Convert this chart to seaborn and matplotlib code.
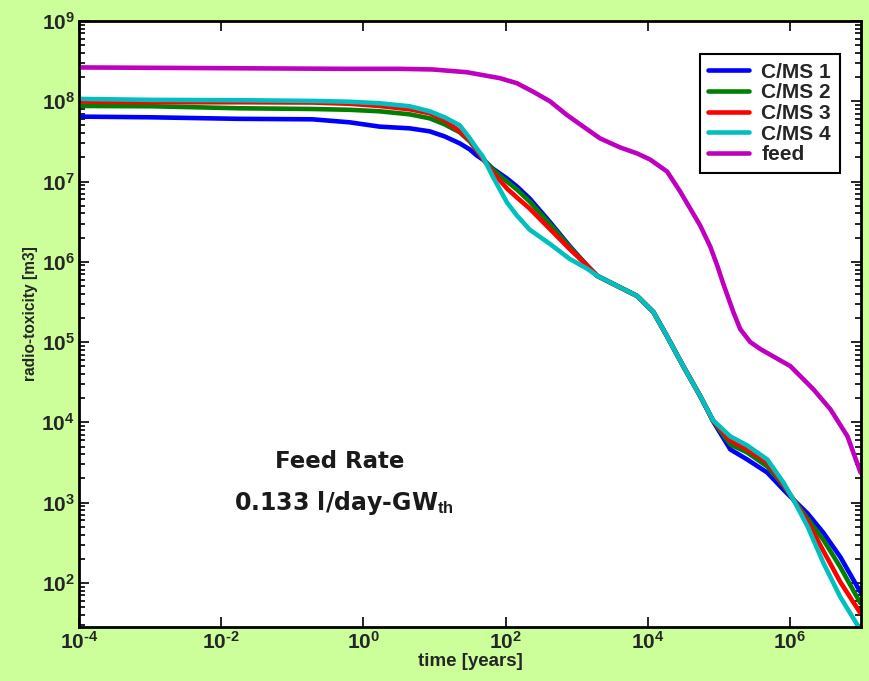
import numpy as np
import pandas as pd
import matplotlib
matplotlib.use("Agg")
import matplotlib.pyplot as plt
from matplotlib.ticker import FixedLocator, FuncFormatter, NullFormatter, NullLocator
import seaborn as sns

# ---------------- data ----------------
time_cms = [1e-4, 1.07e-3, 0.018, 0.192, 0.638, 1.69, 4.48, 8.57, 13.9, 22.7, 31.4,
            39.4, 47.9, 66.1, 105, 145, 219, 417, 794, 1413, 1950, 3715, 7080,
            1.2e4, 1.86e4, 3.16e4, 5.5e4, 8.3e4, 1.45e5, 2.5e5, 4.8e5, 8.1e5,
            1.12e6, 1.78e6, 2.95e6, 5.1e6, 9.8e6]
cms1 = [6.44e7, 6.31e7, 6.04e7, 5.96e7, 5.47e7, 4.83e7, 4.60e7, 4.22e7, 3.65e7, 2.99e7, 2.51e7,
        2.11e7, 1.88e7, 1.45e7, 1.09e7, 8.66e6, 6.13e6, 3.16e6, 1.58e6, 8.91e5, 6.68e5,
        5.01e5, 3.76e5, 2.37e5, 1.19e5, 5.01e4, 2.11e4, 1.03e4, 4.60e3, 3.45e3, 2.37e3,
        1.45e3, 1.09e3, 729, 422, 211, 77]
cms2 = [8.74e7, 8.66e7, 8.18e7, 8.01e7, 7.83e7, 7.50e7, 6.88e7, 6.13e7, 5.16e7, 4.10e7, 3.16e7,
        2.44e7, 1.94e7, 1.41e7, 1.0e7, 7.94e6, 5.62e6, 2.99e6, 1.54e6, 8.91e5, 6.68e5,
        5.01e5, 3.76e5, 2.37e5, 1.19e5, 5.01e4, 2.11e4, 1.05e4, 5.31e3, 4.22e3, 2.82e3,
        1.63e3, 1.09e3, 631, 345, 158, 56]
cms3 = [9.91e7, 9.72e7, 9.72e7, 9.64e7, 9.31e7, 8.74e7, 7.94e7, 7.08e7, 5.79e7, 4.22e7, 3.25e7,
        2.44e7, 1.94e7, 1.30e7, 8.17e6, 6.31e6, 4.60e6, 2.58e6, 1.45e6, 8.91e5, 6.68e5,
        5.01e5, 3.76e5, 2.37e5, 1.19e5, 5.01e4, 2.11e4, 1.05e4, 5.96e3, 4.60e3, 3.16e3,
        1.68e3, 1.09e3, 579, 251, 103, 42]
cms4 = [1.07e8, 1.04e8, 1.03e8, 1.01e8, 9.86e7, 9.44e7, 8.66e7, 7.50e7, 6.31e7, 5.01e7, 3.45e7,
        2.58e7, 2.05e7, 1.155e7, 5.46e6, 3.76e6, 2.51e6, 1.68e6, 1.09e6, 8.18e5, 6.68e5,
        5.01e5, 3.76e5, 2.37e5, 1.19e5, 5.01e4, 2.11e4, 1.06e4, 6.68e3, 5.16e3, 3.45e3,
        1.78e3, 1.09e3, 501, 178, 67, 26]

time_feed = [1e-4, 0.579, 3.24, 9.44, 28.5, 83.2, 144, 243, 421, 731, 1227, 2133, 4083,
             7079, 1.08e4, 1.875e4, 2.86e4, 3.96e4, 5.48e4, 7.59e4, 9.53e4, 1.156e5,
             1.60e5, 2.00e5, 2.77e5, 3.84e5, 1.016e6, 2.14e6, 3.72e6, 6.46e6, 9.86e6]
feed = [2.64e8, 2.535e8, 2.535e8, 2.49e8, 2.30e8, 1.94e8, 1.68e8, 1.32e8, 1.0e8, 6.74e7,
        4.87e7, 3.45e7, 2.66e7, 2.24e7, 1.88e7, 1.33e7, 7.50e6, 4.60e6, 2.82e6, 1.54e6,
        8.91e5, 5.31e5, 2.37e5, 1.45e5, 1.0e5, 8.18e4, 5.01e4, 2.58e4, 1.45e4, 6.68e3,
        2.37e3]

x_ticks = [1e-4, 1e-2, 1e0, 1e2, 1e4, 1e6]
y_ticks = [1e2, 1e3, 1e4, 1e5, 1e6, 1e7, 1e8, 1e9]

series_names = ["C/MS 1", "C/MS 2", "C/MS 3", "C/MS 4", "feed"]
colors = ["#0000ff", "#008000", "#ff0000", "#00bfbf", "#bf00bf"]

frames = []
for name, vals in zip(series_names[:4], [cms1, cms2, cms3, cms4]):
    frames.append(pd.DataFrame({"time": time_cms, "value": vals, "series": name}))
frames.append(pd.DataFrame({"time": time_feed, "value": feed, "series": "feed"}))
df = pd.concat(frames, ignore_index=True)

# ---------------- style ----------------
sns.set_theme(style="ticks")
plt.rcParams["font.family"] = ["Liberation Sans", "DejaVu Sans"]
plt.rcParams["font.weight"] = "bold"
plt.rcParams["mathtext.fontset"] = "custom"
plt.rcParams["mathtext.rm"] = "Liberation Sans:bold"
plt.rcParams["mathtext.bf"] = "Liberation Sans:bold"
plt.rcParams["mathtext.it"] = "Liberation Sans:bold"

bg = "#ccff99"
fig = plt.figure(figsize=(8.69, 6.81), dpi=100, facecolor=bg)
ax = fig.add_axes([79 / 869, 1 - 627 / 681, (861 - 79) / 869, (627 - 21) / 681])
ax.set_facecolor("white")

sns.lineplot(data=df, x="time", y="value", hue="series", hue_order=series_names,
             palette=colors, estimator=None, sort=False, linewidth=3.3, ax=ax,
             legend=False)

ax.set_xscale("log")
ax.set_yscale("log")
ax.set_xlim(1e-4, 1e7)
ax.set_ylim(28.2, 1e9)

ax.xaxis.set_major_locator(FixedLocator(x_ticks))
ax.xaxis.set_minor_locator(NullLocator())
ax.yaxis.set_major_locator(FixedLocator(y_ticks))
minor_y = [m * 10.0 ** e for e in range(1, 9) for m in range(2, 10)
           if 28.2 <= m * 10.0 ** e <= 1e9]
ax.yaxis.set_minor_locator(FixedLocator(minor_y))
ax.yaxis.set_minor_formatter(NullFormatter())

HYPHEN = "\u2010"


def fmt_func(v, p):
    e = int(round(np.log10(v)))
    if e < 0:
        return "$\\mathbf{10^{" + HYPHEN + str(-e) + "}}$"
    return "$\\mathbf{10^{" + str(e) + "}}$"


fmt = FuncFormatter(fmt_func)
ax.xaxis.set_major_formatter(fmt)
ax.yaxis.set_major_formatter(fmt)

ax.tick_params(which="both", direction="in", top=True, right=True, color="black",
               labelsize=15, width=1.2)
ax.tick_params(which="major", length=7)
ax.tick_params(axis="y", which="major", pad=3)
ax.tick_params(axis="x", which="major", pad=3)
ax.tick_params(which="minor", length=4)
for s in ax.spines.values():
    s.set_visible(True)
    s.set_color("black")
    s.set_linewidth(2)

ax.set_xlabel("time [years]", fontsize=13.5, fontweight="bold", labelpad=0)
ax.set_ylabel("radio-toxicity [m3]", fontsize=11.2, fontweight="bold")
ax.yaxis.set_label_coords(-0.053, 0.518)

# legend
handles = [plt.Line2D([], [], color=c, lw=3.3) for c in colors]
leg = ax.legend(handles, series_names, loc="upper right",
                bbox_to_anchor=(0.973, 0.9455), borderaxespad=0,
                fancybox=False, framealpha=1, edgecolor="black",
                prop={"family": "Liberation Sans", "weight": "bold", "size": 15},
                handlelength=1.95, labelspacing=0.08, handletextpad=0.6,
                borderpad=0.42)
leg.get_frame().set_linewidth(1.5)

# annotation
fig.text(340 / 869, 1 - 462 / 681, "Feed Rate", ha="center", va="center",
         fontsize=16.5, fontweight="bold", family="DejaVu Sans", color="#1a1a1a")
fig.text(344 / 869, 1 - 503 / 681, "0.133 l/day-GW$_{\\mathbf{th}}$", ha="center",
         va="center", fontsize=17, fontweight="bold", family="DejaVu Sans",
         color="#1a1a1a")

fig.savefig("out.png", dpi=100, facecolor=bg)
